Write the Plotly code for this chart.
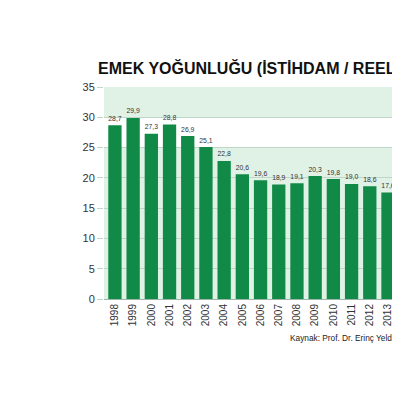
import plotly.graph_objects as go

years = ["1998", "1999", "2000", "2001", "2002", "2003", "2004", "2005",
         "2006", "2007", "2008", "2009", "2010", "2011", "2012", "2013"]
values = [28.7, 29.9, 27.3, 28.8, 26.9, 25.1, 22.8, 20.6,
          19.6, 18.9, 19.1, 20.3, 19.8, 19.0, 18.6, 17.6]

title_text = "EMEK YOĞUNLUĞU (İSTİHDAM / REEL GSYH)"
source_text = "Kaynak: Prof. Dr. Erinç Yeldan/TÜİK"

fig = go.Figure(go.Bar(
    x=years, y=values,
    marker=dict(color="#108a46", line=dict(width=0)),
    text=values, texttemplate="%{y:.1f}", textposition="outside",
    textfont=dict(size=9.5, color="#333333"),
    cliponaxis=False,
))

# light green background, white band between 25 and 30
fig.add_shape(type="rect", xref="paper", yref="y", x0=0, x1=1, y0=25, y1=30,
              fillcolor="white", line=dict(width=0), layer="below")

fig.add_annotation(text=title_text, xref="paper", yref="paper", x=-0.027, y=1,
                   xanchor="left", yanchor="middle", yshift=19, showarrow=False,
                   font=dict(family="Liberation Sans", size=16, color="#111111", weight="bold"))
fig.add_annotation(text=source_text, xref="paper", yref="paper", x=0.62, y=0,
                   xanchor="left", yanchor="middle", yshift=-39, showarrow=False,
                   font=dict(family="Liberation Sans", size=8.3, color="#222222"))

fig.update_layout(
    width=400, height=400,
    margin=dict(l=96, r=8, t=79, b=109),
    paper_bgcolor="white", plot_bgcolor="#e0f1e6",
    separators=",.",
    bargap=0.27,
    showlegend=False,
    font=dict(family="Liberation Sans", color="#333333"),
)
fig.update_xaxes(range=[-0.6, 15.66], tickangle=-90, tickfont=dict(size=10),
                 showline=True, linecolor="#9fb5a7", ticks="", showgrid=False)
fig.update_yaxes(range=[0, 35], dtick=5, tickfont=dict(size=11), gridcolor="#bfd6c8",
                 ticks="outside", ticklen=6, tickcolor="#bfd6c8", zeroline=False)

fig.write_html("out.html")
